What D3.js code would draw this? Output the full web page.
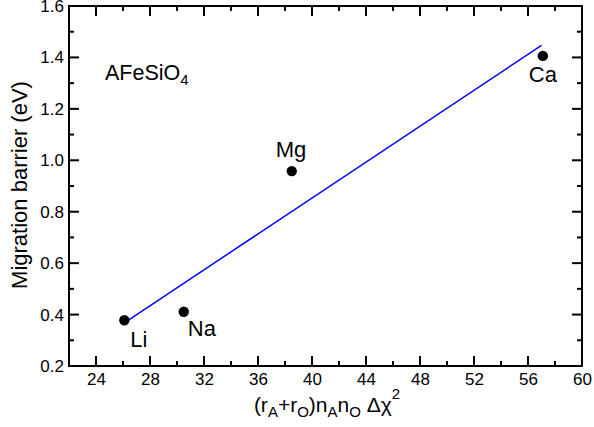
<!DOCTYPE html>
<html>
<head>
<meta charset="utf-8">
<script src="https://cdn.jsdelivr.net/npm/d3@7"></script>
<style>
  body { margin: 0; background: #fff; overflow: hidden; }
  svg { display: block; }
  text { font-family: "Liberation Sans", Arial, Helvetica, sans-serif; }
</style>
</head>
<body>
<svg id="chart" width="594" height="427"></svg>
<script>
// data
const cations = ["Li", "Na", "Mg", "Ca"];
const descriptor = [26.1, 30.5, 38.5, 57.1];
const barrier = [0.378, 0.411, 0.958, 1.406];
const fitX = [26.1, 57.0];
const fitY = [0.368, 1.447];
const xMajor = [24, 28, 32, 36, 40, 44, 48, 52, 56, 60];
const yMajor = [0.2, 0.4, 0.6, 0.8, 1.0, 1.2, 1.4, 1.6];

const svg = d3.select("#chart"),
    margin = {top: 6, right: 12, bottom: 61, left: 69},
    width = +svg.attr("width") - margin.left - margin.right,
    height = +svg.attr("height") - margin.top - margin.bottom;

const x = d3.scaleLinear().domain([22, 60]).range([0, width]);
const y = d3.scaleLinear().domain([0.2, 1.6]).range([height, 0]);

const g = svg.append("g")
    .attr("transform", "translate(" + margin.left + "," + margin.top + ")");

const xMinor = d3.range(22, 61, 2).filter(v => !xMajor.includes(v));
const yMinor = d3.range(3, 16, 2).map(v => v / 10);

// inward tick marks on all four sides
const ticks = g.append("g").attr("class", "tickmarks");
function addTicks(values, len, vertical) {
  ticks.selectAll(null).data(values).enter().append("line")
    .attr("x1", d => vertical ? x(d) : 0).attr("x2", d => vertical ? x(d) : len)
    .attr("y1", d => vertical ? height : y(d)).attr("y2", d => vertical ? height - len : y(d));
  ticks.selectAll(null).data(values).enter().append("line")
    .attr("x1", d => vertical ? x(d) : width).attr("x2", d => vertical ? x(d) : width - len)
    .attr("y1", d => vertical ? 0 : y(d)).attr("y2", d => vertical ? len : y(d));
}
addTicks(xMajor, 10, true);
addTicks(xMinor, 5, true);
addTicks(yMajor, 10, false);
addTicks(yMinor, 5, false);
ticks.selectAll("line").attr("stroke", "#000").attr("stroke-width", 2);

// frame
g.append("rect")
  .attr("width", width).attr("height", height)
  .attr("fill", "none").attr("stroke", "#000").attr("stroke-width", 2);

// tick labels (axes without tick lines)
function styleAxis(sel) {
  sel.select(".domain").remove();
  sel.selectAll("line").remove();
  sel.selectAll("text").attr("font-size", 17).attr("fill", "#000");
}
g.append("g").attr("transform", "translate(0," + height + ")")
  .call(d3.axisBottom(x).tickValues(xMajor).tickSize(0).tickPadding(7).tickFormat(d3.format("d")))
  .call(styleAxis);
g.append("g")
  .call(d3.axisLeft(y).tickValues(yMajor).tickSize(0).tickPadding(5).tickFormat(d3.format(".1f")))
  .call(styleAxis);

// fit line
g.append("path")
  .datum(fitX.map((v, i) => [v, fitY[i]]))
  .attr("fill", "none")
  .attr("stroke", "#0000ff")
  .attr("stroke-width", 1.5)
  .attr("d", d3.line().x(d => x(d[0])).y(d => y(d[1])));

// points
const points = cations.map((c, i) => ({name: c, x: descriptor[i], y: barrier[i]}));
g.selectAll(".pt")
  .data(points)
  .enter().append("circle")
    .attr("class", "pt")
    .attr("cx", d => x(d.x))
    .attr("cy", d => y(d.y))
    .attr("r", 5.2)
    .attr("fill", "#000");

// point labels
const labelShift = {Li: [6, 27], Na: [4, 24], Mg: [-16, -14], Ca: [-14, 26]};
g.selectAll(".lbl")
  .data(points)
  .enter().append("text")
    .attr("class", "lbl")
    .attr("x", d => x(d.x) + labelShift[d.name][0])
    .attr("y", d => y(d.y) + labelShift[d.name][1])
    .attr("font-size", 22)
    .text(d => d.name);

// compound name
const title = svg.append("text").attr("x", 105).attr("y", 80).attr("font-size", 21.5);
title.append("tspan").text("AFeSiO");
title.append("tspan").attr("font-size", 15).attr("dy", 5).text("4");

// y axis label
svg.append("text")
  .attr("transform", "translate(27," + (margin.top + height / 2 - 1) + ") rotate(-90)")
  .attr("text-anchor", "middle")
  .attr("font-size", 22)
  .text("Migration barrier (eV)");

// x axis label
const xl = svg.append("text")
  .attr("x", 327)
  .attr("y", 412)
  .attr("text-anchor", "middle")
  .attr("font-size", 21);
xl.append("tspan").text("(r");
xl.append("tspan").attr("font-size", 15).attr("dy", 5).text("A");
xl.append("tspan").attr("dy", -5).text("+r");
xl.append("tspan").attr("font-size", 15).attr("dy", 5).text("O");
xl.append("tspan").attr("dy", -5).text(")n");
xl.append("tspan").attr("font-size", 15).attr("dy", 5).text("A");
xl.append("tspan").attr("dy", -5).text("n");
xl.append("tspan").attr("font-size", 15).attr("dy", 5).text("O");
xl.append("tspan").attr("dy", -5).text(" \u0394\u03c7");
xl.append("tspan").attr("font-size", 15).attr("dy", -13).text("2");
</script>
</body>
</html>
